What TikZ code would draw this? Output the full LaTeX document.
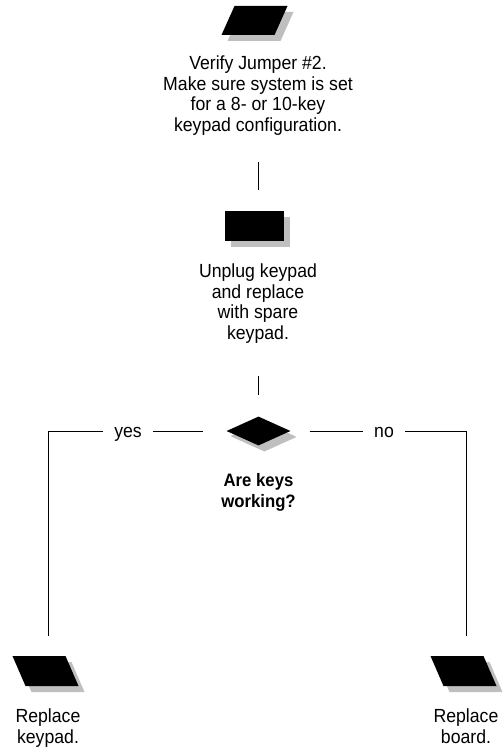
\documentclass[tikz,border=0pt]{standalone}
\usepackage{fontspec}
\setmainfont{Liberation Sans}[FakeStretch=0.93]
\usepackage{tikz}
\usetikzlibrary{shapes.geometric,shadows}

\tikzset{
  blk/.style={fill=black,inner sep=0pt,
    drop shadow={shadow xshift=6pt,shadow yshift=-6pt,fill=black!25,opacity=1}},
  leanr/.style={blk,trapezium,inner sep=1pt,trapezium left angle=72,trapezium right angle=108,
    trapezium stretches=true,minimum width=66pt,minimum height=29pt},
  leanl/.style={blk,trapezium,inner sep=1pt,trapezium left angle=108,trapezium right angle=72,
    trapezium stretches=true,minimum width=66pt,minimum height=30pt},
  txt/.style={align=center,inner sep=0pt,anchor=base,
    font=\fontsize{19}{20.5}\selectfont},
  lbl/.style={txt,fill=white,inner xsep=11pt},
  wire/.style={line width=1pt}
}

\begin{document}
\begin{tikzpicture}[x=1pt,y=-1pt]
	\useasboundingbox (0,0) rectangle (501,752);
	%	top step (text placed by its last line)
	\node[leanr] (box1) at (254.5,20.5) {};
	\node[txt] (t1) at (258,131) {Verify Jumper \#2.\\Make sure system is set\\for a 8- or 10-key\\keypad configuration.};

	%	second step
	\node[blk,rectangle,minimum width=59pt,minimum height=30pt] (box2) at (254.5,226) {};
	\node[txt] (t2) at (258,339) {Unplug keypad\\and replace\\with spare\\keypad.};

	%	decision
	\node[blk,diamond,minimum width=64pt,minimum height=29pt,
		drop shadow={shadow xshift=4pt,shadow yshift=-5pt,fill=black!25,opacity=1}] (dia) at (258.5,431) {};
	\node[txt,font=\fontsize{18}{20.5}\selectfont\bfseries] (q) at (258.5,507) {Are keys\\working?};

	%	end steps
	\node[leanl] (boxl) at (45.5,671) {};
	\node[txt] (tl) at (48,743) {Replace\\keypad.};
	\node[leanl] (boxr) at (463.5,671) {};
	\node[txt] (tr) at (466,743) {Replace\\board.};

	\coordinate (cl) at (48,431);
	\coordinate (cr) at (466,431);

	%	connectors
	\draw[wire,shorten <=27pt,shorten >=21pt] (t1.south) -- (t1.south |- box2.north);
	\draw[wire,shorten <=33pt,shorten >=21pt] (t2.south) -- (t2.south |- dia.north);
	\draw[wire,shorten <=23.5pt,shorten >=20pt] (dia.west) -- (cl) -- (cl |- boxl.north);
	\draw[wire,shorten <=19pt,shorten >=20pt] (dia.east) -- (cr) -- (cr |- boxr.north);

	\node[lbl] (yes) at (128,437) {yes};
	\node[lbl] (no) at (384,437) {no};
\end{tikzpicture}
\end{document}
